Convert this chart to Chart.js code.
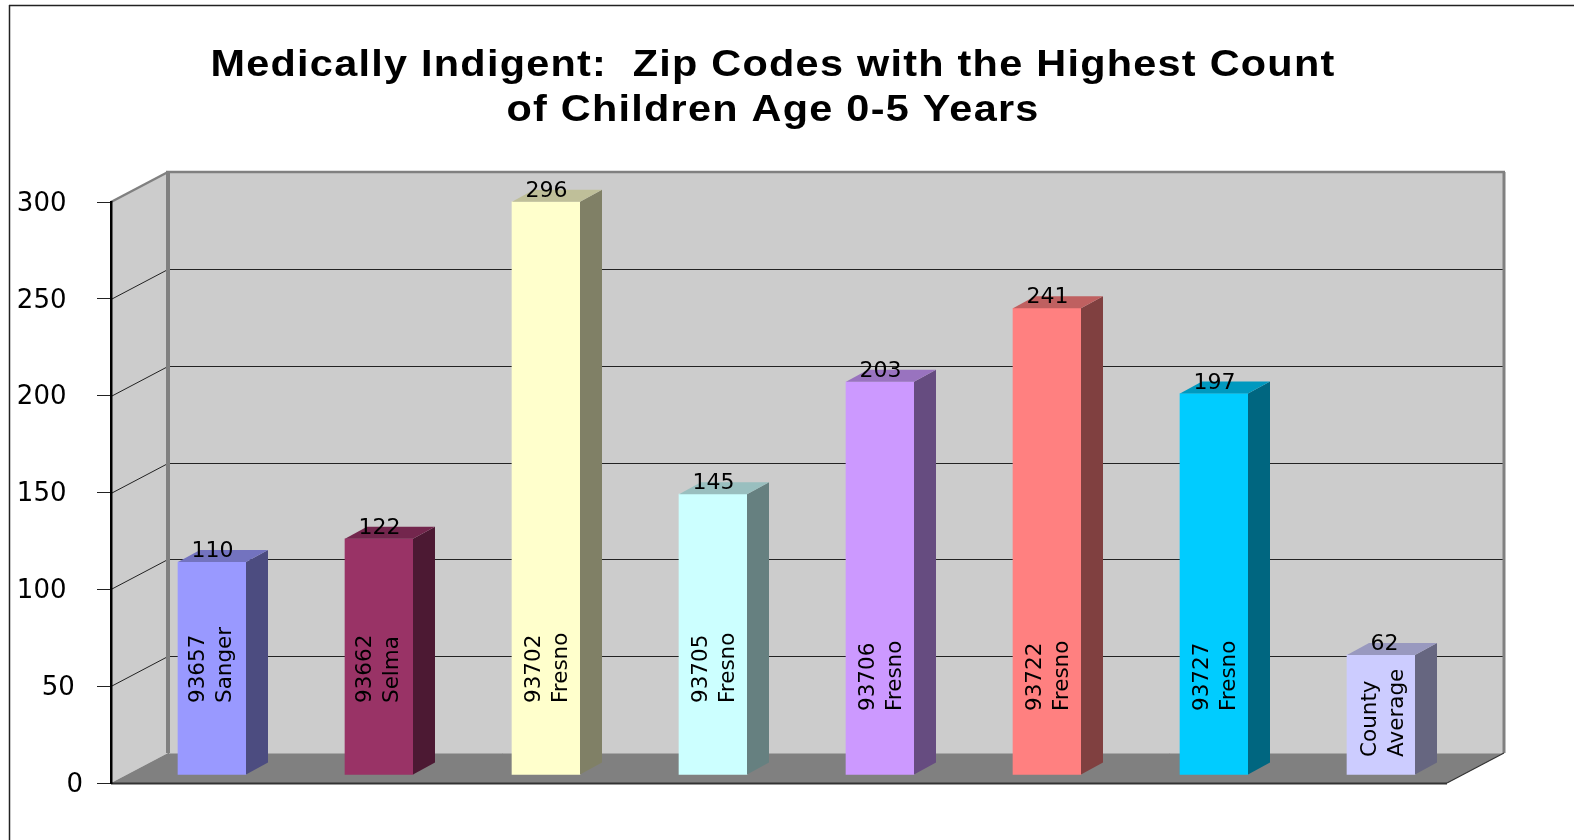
<!DOCTYPE html>
<html><head><meta charset="utf-8">
<style>html,body{margin:0;padding:0;background:#fff}canvas{display:block}</style>
<script src="https://cdn.jsdelivr.net/npm/chart.js@4"></script>
</head><body><canvas id="c" width="1574" height="840"></canvas>
<script>
const titleLines = ['Medically Indigent:  Zip Codes with the Highest Count','of Children Age 0-5 Years'];
const categories = [['93657','Sanger'],['93662','Selma'],['93702','Fresno'],['93705','Fresno'],['93706','Fresno'],['93722','Fresno'],['93727','Fresno'],['County','Average']];
const counts = [110,122,296,145,203,241,197,62];
const barColors = ['#9999FF','#993366','#FFFFCC','#CCFFFF','#CC99FF','#FF8080','#00CCFF','#CCCCFF'];
const topColors = ['#7373BF','#73264D','#BFBF99','#99BFBF','#9973BF','#BF6060','#0099BF','#9999BF'];
const sideColors = ['#4C4C80','#4C1933','#808066','#668080','#664C80','#804040','#006680','#666680'];

const WALL_DX = 57, WALL_DY = 30, BAR_DX = 17.5, BAR_DY = 8, SIDE_DX = 22, SIDE_DY = 12;
const labelStartY = [703,703,703,703,711,711,711,757];
const labelShift = [0,0,2,2,2,2,2,3];

function poly(ctx, pts, fill){ ctx.beginPath(); pts.forEach((p,i)=> i?ctx.lineTo(p[0],p[1]):ctx.moveTo(p[0],p[1])); ctx.closePath(); ctx.fillStyle=fill; ctx.fill(); }
function line(ctx, x1,y1,x2,y2,color,w){ ctx.beginPath(); ctx.moveTo(x1,y1); ctx.lineTo(x2,y2); ctx.strokeStyle=color; ctx.lineWidth=w; ctx.stroke(); }

const scene3d = {
  id:'scene3d',
  afterLayout(chart){
    const tb = chart.titleBlock;
    if(tb && !tb._spaced){
      const d = tb.draw;
      tb.draw = function(){
        const c=this.ctx; c.save();
        c.translate(773,0); c.scale(1.15,1); c.translate(-723.5,0);
        c.letterSpacing='1.1px';
        d.call(this); c.restore();
      };
      tb._spaced = true;
    }
  },
  beforeDraw(chart){
    const {ctx, chartArea:a, scales:{y}} = chart;
    const L=a.left, R=a.right, B=y.getPixelForValue(0), T=y.getPixelForValue(300);
    ctx.save();
    line(ctx,9.5,5,9.5,840,'#222',1.5);
    line(ctx,9,5.5,1574,5.5,'#222',1.5);
    poly(ctx,[[L,T],[L+WALL_DX,T-WALL_DY],[L+WALL_DX,B-WALL_DY],[L,B]],'#CCCCCC');
    poly(ctx,[[L+WALL_DX,T-WALL_DY],[R+WALL_DX,T-WALL_DY],[R+WALL_DX,B-WALL_DY],[L+WALL_DX,B-WALL_DY]],'#CCCCCC');
    poly(ctx,[[L,B],[L+WALL_DX,B-WALL_DY],[R+WALL_DX,B-WALL_DY],[R,B]],'#808080');
    y.ticks.forEach(t=>{
      if(t.value===0||t.value===300) return;
      const py=Math.round(y.getPixelForValue(t.value))+0.5;
      line(ctx,L,py,L+WALL_DX,py-WALL_DY,'#222',1);
      line(ctx,L+WALL_DX,py-WALL_DY,R+WALL_DX,py-WALL_DY,'#222',1);
    });
    line(ctx,L+WALL_DX,T-WALL_DY,L+WALL_DX,B-WALL_DY,'#808080',4);
    line(ctx,L,T,L+WALL_DX,T-WALL_DY,'#808080',2.5);
    line(ctx,L+WALL_DX-2,T-WALL_DY,R+WALL_DX+1,T-WALL_DY,'#808080',2.5);
    line(ctx,R+WALL_DX,T-WALL_DY,R+WALL_DX,B-WALL_DY,'#808080',3);
    line(ctx,L+WALL_DX+1,B-WALL_DY+0.5,R+WALL_DX-1,B-WALL_DY+0.5,'#A6A6A6',1);
    line(ctx,L,B+0.5,R,B+0.5,'#333',2);
    line(ctx,R,B,R+WALL_DX,B-WALL_DY,'#333',1.2);
    ctx.restore();
  },
  beforeDatasetsDraw(chart){
    chart.ctx.save();
    chart.ctx.translate(BAR_DX,-BAR_DY);
  },
  afterDatasetsDraw(chart){
    const ctx=chart.ctx;
    const bars=chart.getDatasetMeta(0).data;
    bars.forEach((b,i)=>{
      const hw=b.width/2, l=b.x-hw, r=b.x+hw, t=b.y, bt=b.base;
      poly(ctx,[[r,t],[r+SIDE_DX,t-SIDE_DY],[r+SIDE_DX,bt-SIDE_DY],[r,bt]],sideColors[i]);
      poly(ctx,[[l,t],[l+SIDE_DX,t-SIDE_DY],[r+SIDE_DX,t-SIDE_DY],[r,t]],topColors[i]);
    });
    ctx.fillStyle='#000';
    ctx.font='22px "DejaVu Sans"';
    ctx.textAlign='center'; ctx.textBaseline='middle';
    bars.forEach((b,i)=>{
      const s=String(counts[i]);
      ctx.fillText(s, b.x+(s.length<3?3.5:0.5), b.y-10.5);
    });
    ctx.restore();
    ctx.save();
    ctx.fillStyle='#000';
    ctx.font='21.5px "DejaVu Sans"';
    ctx.textAlign='left'; ctx.textBaseline='alphabetic';
    bars.forEach((b,i)=>{
      const left=b.x+BAR_DX-b.width/2;
      categories[i].forEach((txt,k)=>{
        ctx.save();
        ctx.translate(left+26+labelShift[i]+k*26.5, labelStartY[i]);
        ctx.rotate(-Math.PI/2);
        ctx.fillText(txt,0,0);
        ctx.restore();
      });
    });
    ctx.restore();
  }
};

new Chart(document.getElementById('c'),{
  type:'bar',
  data:{labels:categories,datasets:[{label:'Children age 0-5',data:counts,backgroundColor:barColors,borderWidth:0,barThickness:68,clip:false}]},
  plugins:[scene3d],
  options:{
    responsive:false,animation:false,
    layout:{padding:{left:0,right:127,top:0,bottom:57}},
    plugins:{
      legend:{display:false},tooltip:{enabled:false},
      title:{display:true,text:titleLines,color:'#000',font:{family:'"Liberation Sans"',size:36,weight:'bold',lineHeight:1.25},padding:{top:44,bottom:68}}
    },
    scales:{
      x:{display:false},
      y:{min:0,max:300,
        afterFit(s){s.width=111;s.paddingTop=0;s.paddingBottom=0;},
        grid:{drawOnChartArea:false,color:'#222',tickLength:14,tickWidth:1},
        border:{color:'#000',width:2.5},
        ticks:{stepSize:50,padding:14,labelOffset:2,color:'#000',font:{family:'"DejaVu Sans"',size:26},
          callback(v){const s=String(v);return s+' '.repeat(s.length-1);}}
      }
    }
  }
});
</script></body></html>
